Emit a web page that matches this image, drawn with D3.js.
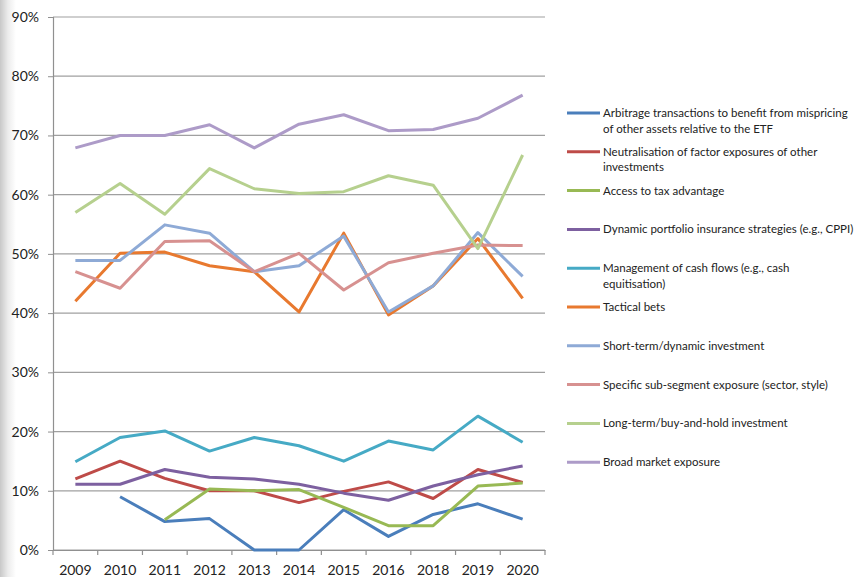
<!DOCTYPE html>
<html><head><meta charset="utf-8">
<script src="https://cdn.jsdelivr.net/npm/d3@7"></script>
<style>body{margin:0;background:#fff;} svg{display:block;}</style>
</head><body>
<svg id="c" width="860" height="577"></svg>
<script>
const years = ["2009","2010","2011","2012","2013","2014","2015","2016","2018","2019","2020"];
const yTicks = [0,0.1,0.2,0.3,0.4,0.5,0.6,0.7,0.8,0.9];

const arbitrage      = [null,9.0,4.8,5.3,0.0,0.0,6.8,2.3,6.0,7.8,5.2];
const neutralisation = [12.0,15.0,12.1,10.0,10.0,8.0,9.9,11.5,8.7,13.6,11.4];
const taxAdvantage   = [null,null,5.1,10.3,10.0,10.2,7.2,4.1,4.1,10.8,11.3];
const dynamicPortf   = [11.1,11.1,13.6,12.3,12.0,11.1,9.6,8.4,10.8,12.7,14.2];
const cashFlows      = [14.9,19.0,20.1,16.7,19.0,17.6,15.0,18.4,16.9,22.6,18.2];
const tacticalBets   = [42.0,50.1,50.3,48.0,47.0,40.2,53.5,39.7,44.6,52.6,42.5];
const shortTerm      = [48.9,48.9,54.9,53.5,47.0,48.0,53.0,40.2,44.6,53.6,46.2];
const subSegment     = [47.0,44.2,52.1,52.2,47.0,50.1,43.9,48.5,50.1,51.5,51.4];
const longTerm       = [57.0,61.9,56.7,64.4,61.0,60.2,60.5,63.2,61.6,50.9,66.7];
const broadMarket    = [67.9,70.0,70.0,71.8,67.9,71.9,73.5,70.8,71.0,72.9,76.8];

const seriesNames = [
  ["Arbitrage transactions to benefit from mispricing","of other assets relative to the ETF"],
  ["Neutralisation of factor exposures of other","investments"],
  ["Access to tax advantage"],
  ["Dynamic portfolio insurance strategies (e.g., CPPI)"],
  ["Management of cash flows (e.g., cash","equitisation)"],
  ["Tactical bets"],
  ["Short-term/dynamic investment"],
  ["Specific sub-segment exposure (sector, style)"],
  ["Long-term/buy-and-hold investment"],
  ["Broad market exposure"]
];
const seriesValues = [arbitrage,neutralisation,taxAdvantage,dynamicPortf,cashFlows,tacticalBets,shortTerm,subSegment,longTerm,broadMarket];
const colors = ["#4a7ebb","#be4b48","#98b954","#7d60a0","#46aac5","#e8792f","#8eaad6","#d79190","#b6d08e","#ad9bc8"];

const svg = d3.select("#c");
const font = "Lato, 'Open Sans', sans-serif";

// left page shadow
const defs = svg.append("defs");
const g0 = defs.append("linearGradient").attr("id","sh").attr("x1","0").attr("x2","1");
g0.append("stop").attr("offset","0").attr("stop-color","#c8c8c8");
g0.append("stop").attr("offset","0.5").attr("stop-color","#ececec");
g0.append("stop").attr("offset","1").attr("stop-color","#ffffff");
svg.append("rect").attr("x",0).attr("y",0).attr("width",16).attr("height",577).attr("fill","url(#sh)");

const x = d3.scaleBand().domain(years).range([53,545]).padding(0);
const y = d3.scaleLinear().domain([0,0.9]).range([550,17]);
const cx = d => x(d) + x.bandwidth()/2;

// gridlines
svg.append("g").selectAll("line").data(yTicks).join("line")
  .attr("x1",53).attr("x2",545)
  .attr("y1",d=>y(d)).attr("y2",d=>y(d))
  .attr("stroke","#a0a0a0").attr("stroke-width",1.2);

// y axis
const yAxis = d3.axisLeft(y).tickValues(yTicks).tickFormat(d3.format(".0%")).tickSize(5).tickPadding(9);
const ya = svg.append("g").attr("transform","translate(53,0)").call(yAxis);
ya.select(".domain").attr("stroke","#909090").attr("stroke-width",1.2);
ya.selectAll(".tick line").attr("stroke","#909090");
ya.selectAll("text").attr("font-family",font).attr("font-size",14).attr("fill","#222");

// x axis
const xAxis = d3.axisBottom(x).tickSize(0).tickPadding(15);
const xa = svg.append("g").attr("transform","translate(0,550)").call(xAxis);
xa.select(".domain").attr("stroke","#909090").attr("stroke-width",1.2);
xa.selectAll("text").attr("font-family",font).attr("font-size",14).attr("fill","#222");
const edges = years.map(d=>x(d)).concat([x(years[years.length-1])+x.bandwidth()]);
xa.append("g").selectAll("line").data(edges).join("line")
  .attr("x1",d=>d).attr("x2",d=>d).attr("y1",0).attr("y2",5)
  .attr("stroke","#909090").attr("stroke-width",1.2);

// lines
const line = d3.line().defined(d=>d.v!==null).x(d=>cx(d.k)).y(d=>y(d.v/100));
seriesValues.forEach((vals,i)=>{
  svg.append("path")
    .datum(years.map((k,j)=>({k,v:vals[j]})))
    .attr("d",line).attr("fill","none")
    .attr("stroke",colors[i]).attr("stroke-width",3)
    .attr("stroke-linejoin","round").attr("stroke-linecap","butt");
});

// legend
const lg = svg.append("g");
seriesNames.forEach((lines,i)=>{
  const ly = 113 + i*38.8;
  lg.append("line").attr("x1",567).attr("x2",600).attr("y1",ly).attr("y2",ly)
    .attr("stroke",colors[i]).attr("stroke-width",3);
  lines.forEach((t,j)=>{
    lg.append("text").attr("x",603).attr("y",ly+4+j*15.5)
      .attr("font-family",font).attr("font-size",11.5).attr("fill","#222").text(t);
  });
});
</script>
</body></html>
